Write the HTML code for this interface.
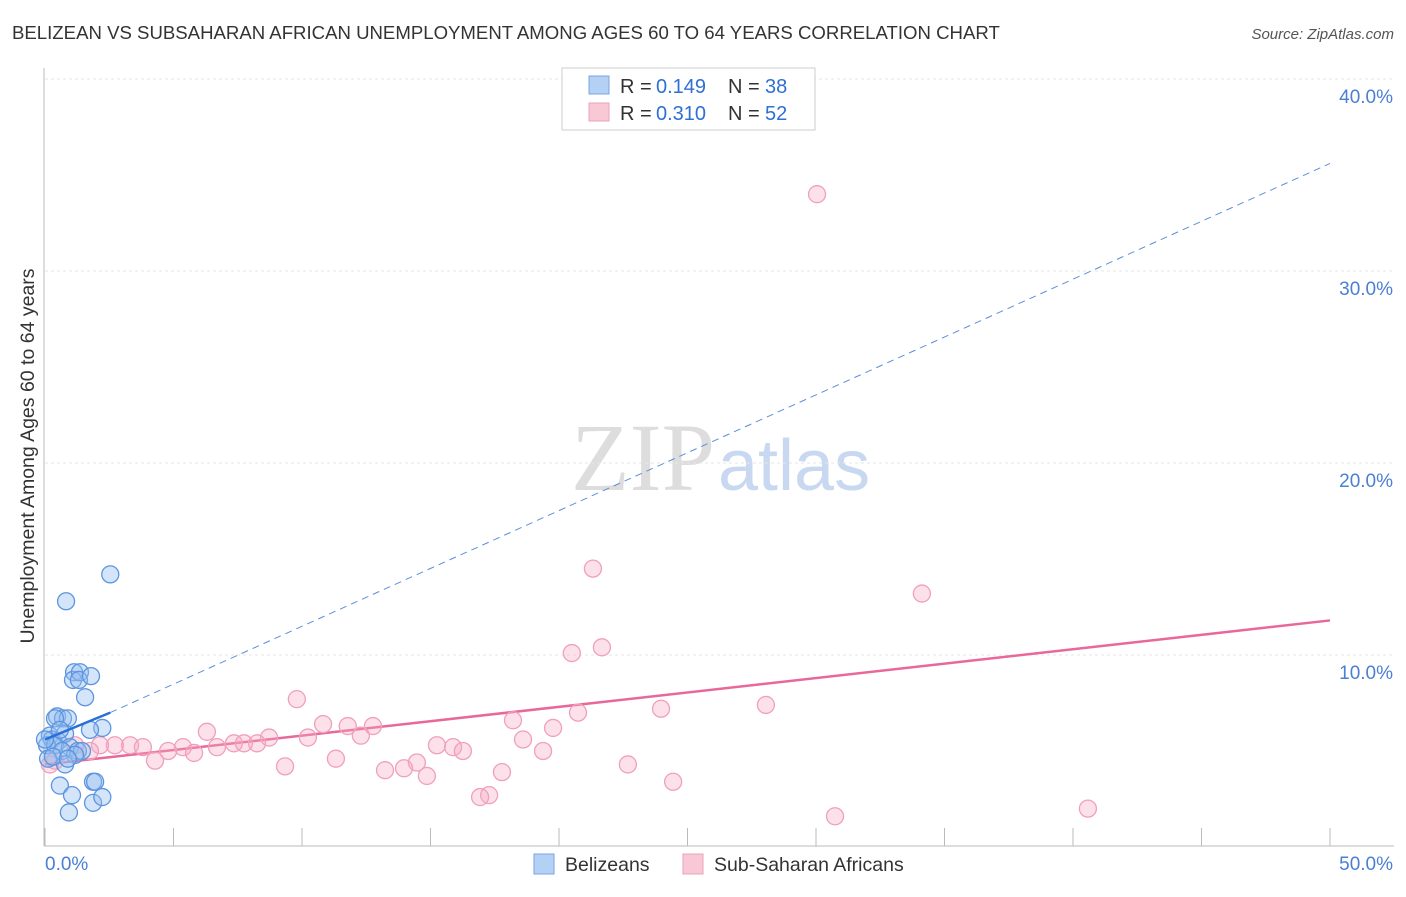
<!DOCTYPE html>
<html><head><meta charset="utf-8"><style>
body{margin:0;background:#fff;font-family:"Liberation Sans",sans-serif}
</style></head><body>
<svg width="1406" height="892" xmlns="http://www.w3.org/2000/svg" font-family="Liberation Sans, sans-serif">
<text x="12" y="39" font-size="18.6" fill="#333">BELIZEAN VS SUBSAHARAN AFRICAN UNEMPLOYMENT AMONG AGES 60 TO 64 YEARS CORRELATION CHART</text>
<text x="1394" y="39" font-size="15" fill="#555" font-style="italic" text-anchor="end">Source: ZipAtlas.com</text>
<text x="715" y="490" font-size="96" fill="#ddd" text-anchor="end" font-family="Liberation Serif, serif">ZIP</text>
<text x="718" y="490" font-size="72" fill="#c8d8f0">atlas</text>
<g id="grid"></g>
<line x1="44" y1="68" x2="44" y2="846" stroke="#bbb"/>
<line x1="44" y1="846" x2="1394" y2="846" stroke="#bbb"/>
<text transform="translate(34,456) rotate(-90)" font-size="19.5" fill="#333" text-anchor="middle">Unemployment Among Ages 60 to 64 years</text>
<text x="45" y="870" font-size="19" fill="#4a7fd4">0.0%</text>
<text x="1393" y="870" font-size="19" fill="#4a7fd4" text-anchor="end">50.0%</text>
<g id="trends"></g>
<g id="pts"></g>
<g>
<rect x="562" y="68" width="253" height="62" fill="#fff" stroke="#ccc"/>
<rect x="589" y="76" width="20" height="18" fill="#b3d0f5" stroke="#7aa6e0"/>
<rect x="589" y="103" width="20" height="18" fill="#f9c8d6" stroke="#eea0b8"/>
<text x="620" y="93" font-size="20" fill="#333">R = </text><text x="656" y="93" font-size="20" fill="#2f6fd6">0.149</text>
<text x="728" y="93" font-size="20" fill="#333">N = </text><text x="765" y="93" font-size="20" fill="#2f6fd6">38</text>
<text x="620" y="120" font-size="20" fill="#333">R = </text><text x="656" y="120" font-size="20" fill="#2f6fd6">0.310</text>
<text x="728" y="120" font-size="20" fill="#333">N = </text><text x="765" y="120" font-size="20" fill="#2f6fd6">52</text>
</g>
<g>
<rect x="534" y="854" width="20" height="20" fill="#b3d0f5" stroke="#7aa6e0"/>
<text x="565" y="871" font-size="19.5" fill="#333">Belizeans</text>
<rect x="683" y="854" width="20" height="20" fill="#f9c8d6" stroke="#eea0b8"/>
<text x="714" y="871" font-size="19.5" fill="#333">Sub-Saharan Africans</text>
</g>
</svg>
<script>
const yTicks=[10,20,30,40];
const xTicks=[0,5,10,15,20,25,30,35,40,45,50];
const blueX=[2.54,0.82,1.13,1.09,1.36,1.32,1.79,1.56,0.47,0.70,0.89,0.39,2.23,1.75,0.19,0.27,0.51,0.78,0.08,0.39,0.97,1.28,0.66,1.44,1.17,0.12,0.78,0.58,1.05,1.87,1.95,1.87,2.23,0.93,0.31,0.58,0.0,0.89];
const blueY=[14.2,12.8,9.1,8.7,9.1,8.7,8.9,7.8,6.8,6.7,6.7,6.7,6.2,6.1,5.8,5.6,5.5,5.9,5.3,5.3,5.2,5.0,5.0,5.0,4.8,4.6,4.3,3.2,2.7,3.4,3.4,2.3,2.6,1.8,4.7,6.1,5.6,4.6];
const pinkX=[30.04,21.32,34.12,21.67,20.5,9.8,28.05,23.97,18.21,20.74,10.82,12.76,11.78,6.3,19.77,12.29,8.72,10.23,18.6,7.35,8.25,7.74,3.31,5.37,2.72,3.81,6.69,15.25,15.88,16.26,4.79,5.8,19.38,4.28,11.32,14.47,9.34,22.68,13.23,13.97,14.86,17.78,24.44,17.28,16.93,40.58,30.74,2.14,1.75,0.39,1.17,0.19];
const pinkY=[34.0,14.5,13.2,10.4,10.1,7.7,7.4,7.2,6.6,7.0,6.4,6.3,6.3,6.0,6.2,5.8,5.7,5.7,5.6,5.4,5.4,5.4,5.3,5.2,5.3,5.2,5.2,5.3,5.2,5.0,5.0,4.9,5.0,4.5,4.6,4.4,4.2,4.3,4.0,4.1,3.7,3.9,3.4,2.7,2.6,2.0,1.6,5.3,5.0,4.5,5.3,4.3];
const blueTrend=[[0,5.6],[2.54,7.0]];
const blueDash=[[2.54,7.0],[50,35.6]];
const pinkTrend=[[0,4.3],[50,11.8]];
const X=v=>45+v/50*1285, Y=v=>847-v*19.2;
const NS='http://www.w3.org/2000/svg';
function mk(t,a,p){const e=document.createElementNS(NS,t);for(const k in a)e.setAttribute(k,a[k]);p.appendChild(e);return e;}
const grid=document.getElementById('grid');
yTicks.forEach(t=>{
 const l=mk('line',{x1:45,x2:1394,y1:Y(t),y2:Y(t),stroke:'#e6e6e6','stroke-dasharray':'3,3'},grid);
 
 
 const tx=mk('text',{x:1393,y:Y(t)+24,'font-size':19,fill:'#4a7fd4','text-anchor':'end'},grid);
 tx.textContent=t.toFixed(1)+'%';
 
 
});
xTicks.forEach(t=>{
 const l=mk('line',{x1:X(t),x2:X(t),y1:828,y2:846,stroke:'#bbb'},grid);
 
 
});
const pts=document.getElementById('pts');
pinkX.forEach((x,i)=>{
 const c=mk('circle',{cx:X(x),cy:Y(pinkY[i]),r:8.5,fill:'rgba(246,170,195,0.35)',stroke:'#f0a0ba','stroke-width':1.3},pts);
 
 
});
blueX.forEach((x,i)=>{
 const c=mk('circle',{cx:X(x),cy:Y(blueY[i]),r:8.5,fill:'rgba(150,190,240,0.4)',stroke:'#5b95e0','stroke-width':1.3},pts);
 
 
});
const tr=document.getElementById('trends');
let l=mk('line',{x1:X(blueDash[0][0]),y1:Y(blueDash[0][1]),x2:X(blueDash[1][0]),y2:Y(blueDash[1][1]),stroke:'#5b8fd8','stroke-width':1,'stroke-dasharray':'7,5'},tr);


l=mk('line',{x1:X(pinkTrend[0][0]),y1:Y(pinkTrend[0][1]),x2:X(pinkTrend[1][0]),y2:Y(pinkTrend[1][1]),stroke:'#e8689a','stroke-width':2.5},tr);


l=mk('line',{x1:X(blueTrend[0][0]),y1:Y(blueTrend[0][1]),x2:X(blueTrend[1][0]),y2:Y(blueTrend[1][1]),stroke:'#2b6fd6','stroke-width':2.5},pts);


</script>
</body></html>
